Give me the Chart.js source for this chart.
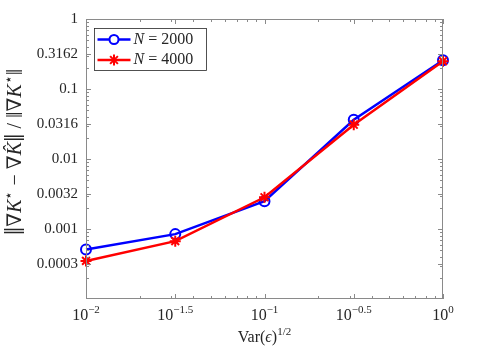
<!DOCTYPE html>
<html>
<head>
<meta charset="utf-8">
<script src="https://cdn.jsdelivr.net/npm/chart.js@4.4.0/dist/chart.umd.min.js"></script>
<style>
  html, body { margin: 0; padding: 0; background: #fff; }
  #wrap { width: 479px; height: 348px; }
</style>
</head>
<body>
<div id="wrap"><canvas id="chart" width="479" height="348"></canvas></div>
<script>
// values
const xValues = [0.01, 0.031623, 0.1, 0.316228, 1];
const errN2000 = [0.00051, 0.000845, 0.0025, 0.0363, 0.257];
const errN4000 = [0.00035, 0.00067, 0.00284, 0.0309, 0.25];
const seriesNames = ['2000', '4000'];

const xTickValues = [0.01, 0.031623, 0.1, 0.316228, 1];
const xTickExponents = ['\u22122', '\u22121.5', '\u22121', '\u22120.5', '0'];
const yTickValues = [1, 0.316228, 0.1, 0.031623, 0.01, 0.0031623, 0.001, 0.00031623];
const yTickLabels = ['1', '0.3162', '0.1', '0.0316', '0.01', '0.0032', '0.001', '0.0003'];

const SERIF = '"Liberation Serif", "DejaVu Serif", serif';
const AXIS_GRAY = '#262626';

// draw a run of text pieces (italic / superscript) centred on (cx, cy)
function drawRich(ctx, parts, cx, cy, angle) {
    ctx.save();
    ctx.translate(cx, cy);
    ctx.rotate(angle || 0);
    ctx.textBaseline = 'middle';
    ctx.textAlign = 'left';
    let total = 0;
    parts.forEach(p => {
        ctx.font = (p.italic ? 'italic ' : '') + p.size + 'px ' + SERIF;
        p.w = ctx.measureText(p.t).width;
        total += p.w;
    });
    let x = -total / 2;
    ctx.fillStyle = AXIS_GRAY;
    parts.forEach(p => {
        ctx.font = (p.italic ? 'italic ' : '') + p.size + 'px ' + SERIF;
        ctx.fillText(p.t, x, p.dy || 0);
        x += p.w;
    });
    ctx.restore();
}

function drawStar(ctx, x, y, r) {
    for (let k = 0; k < 4; k++) {
        const a = k * Math.PI / 4;
        ctx.beginPath();
        ctx.moveTo(x - r * Math.cos(a), y - r * Math.sin(a));
        ctx.lineTo(x + r * Math.cos(a), y + r * Math.sin(a));
        ctx.stroke();
    }
}

const decorations = {
    id: 'decorations',
    afterDraw(chart) {
        const ctx = chart.ctx;
        const a = chart.chartArea;
        const xs = chart.scales.x, ys = chart.scales.y;
        ctx.save();

        // box
        ctx.strokeStyle = '#8a8a8a';
        ctx.lineWidth = 1;
        ctx.strokeRect(a.left + 0.5, a.top + 0.5, a.right - a.left - 1, a.bottom - a.top - 1);

        // tick marks, pointing inwards
        const yTick = (v, len) => {
            const p = Math.round(ys.getPixelForValue(v)) + 0.5;
            ctx.beginPath();
            ctx.moveTo(a.left, p); ctx.lineTo(a.left + len, p);
            ctx.moveTo(a.right, p); ctx.lineTo(a.right - len, p);
            ctx.stroke();
        };
        const xTick = (v, len) => {
            const p = Math.round(xs.getPixelForValue(v)) + 0.5;
            ctx.beginPath();
            ctx.moveTo(p, a.bottom); ctx.lineTo(p, a.bottom - len);
            ctx.moveTo(p, a.top); ctx.lineTo(p, a.top + len);
            ctx.stroke();
        };
        for (let d = -4; d < 0; d++) {
            for (let m = 2; m <= 9; m++) yTick(m * Math.pow(10, d), 3);
        }
        for (let d = -2; d < 0; d++) {
            for (let m = 2; m <= 9; m++) xTick(m * Math.pow(10, d), 3);
        }
        yTickValues.forEach(v => yTick(v, 5));
        xTickValues.forEach(v => xTick(v, 5));

        // x tick labels: 10 with raised exponent
        xTickValues.forEach((v, i) => {
            const px = xs.getPixelForValue(v);
            drawRich(ctx, [
                { t: '10', size: 16 },
                { t: xTickExponents[i], size: 11, dy: -6 }
            ], px, a.bottom + 17, 0);
        });

        // axis titles
        drawRich(ctx, [
            { t: 'Var(', size: 16 },
            { t: '\u03f5', size: 16, italic: true },
            { t: ')', size: 16 },
            { t: '1/2', size: 11, dy: -6 }
        ], (a.left + a.right) / 2, a.bottom + 39, 0);

        drawRich(ctx, [
            { t: '\u2016', size: 30 },
            { t: '\u2207', size: 20 },
            { t: 'K', size: 20, italic: true },
            { t: '\u22c6', size: 14, dy: -7 },
            { t: ' \u2212 ', size: 20 },
            { t: '\u2207', size: 20 },
            { t: 'K\u0302', size: 20, italic: true },
            { t: '\u2016', size: 30 },
            { t: ' / ', size: 20 },
            { t: '\u2016', size: 23 },
            { t: '\u2207', size: 20 },
            { t: 'K', size: 20, italic: true },
            { t: '\u22c6', size: 14, dy: -7 },
            { t: '\u2016', size: 23 }
        ], 16, 152, -Math.PI / 2);

        // legend
        const lx = 94.5, ly = 28.5, lw = 112, lh = 42;
        ctx.fillStyle = '#fff';
        ctx.fillRect(lx, ly, lw, lh);
        ctx.strokeStyle = AXIS_GRAY;
        ctx.lineWidth = 0.8;
        ctx.strokeRect(lx, ly, lw, lh);
        chart.data.datasets.forEach((ds, i) => {
            const cy = ly + 11 + i * 20.5;
            ctx.strokeStyle = ds.borderColor;
            ctx.lineWidth = 2.5;
            ctx.beginPath();
            ctx.moveTo(lx + 3, cy); ctx.lineTo(lx + 36, cy);
            ctx.stroke();
            ctx.lineWidth = 2;
            if (ds.pointStyle === 'circle') {
                ctx.beginPath();
                ctx.arc(lx + 19.5, cy, 4.5, 0, Math.PI * 2);
                ctx.fillStyle = '#fff';
                ctx.fill();
                ctx.stroke();
            } else {
                drawStar(ctx, lx + 19.5, cy, 5.5);
            }
            ctx.save();
            ctx.translate(lx + 39, cy);
            ctx.textBaseline = 'middle';
            ctx.fillStyle = AXIS_GRAY;
            ctx.font = 'italic 16px ' + SERIF;
            ctx.fillText('N', 0, 0);
            const w = ctx.measureText('N').width;
            ctx.font = '16px ' + SERIF;
            ctx.fillText(' = ' + seriesNames[i], w, 0);
            ctx.restore();
        });

        ctx.restore();
    }
};

new Chart(document.getElementById('chart'), {
    type: 'line',
    data: {
        labels: xValues,
        datasets: [
            {
                label: 'N = ' + seriesNames[0],
                data: xValues.map((x, i) => ({ x, y: errN2000[i] })),
                borderColor: '#0000ff',
                borderWidth: 2.5,
                pointStyle: 'circle',
                pointRadius: 5,
                pointBorderWidth: 2,
                pointBackgroundColor: 'rgba(0,0,0,0)',
                order: 1,
                clip: false
            },
            {
                label: 'N = ' + seriesNames[1],
                data: xValues.map((x, i) => ({ x, y: errN4000[i] })),
                borderColor: '#ff0000',
                borderWidth: 2.5,
                pointStyle: 'star',
                pointRadius: 5.5,
                pointBorderWidth: 2,
                pointBackgroundColor: '#ff0000',
                order: 0,
                clip: false
            }
        ]
    },
    options: {
        responsive: false,
        animation: false,
        devicePixelRatio: 1,
        layout: { padding: { top: 19, right: 36, left: 0, bottom: 0 } },
        plugins: { legend: { display: false }, tooltip: { enabled: false } },
        scales: {
            x: {
                type: 'logarithmic',
                min: 0.01,
                max: 1,
                afterBuildTicks: s => { s.ticks = xTickValues.map(v => ({ value: v })); },
                afterFit: s => { s.height = 49; },
                ticks: { display: false },
                grid: { display: false },
                border: { display: false }
            },
            y: {
                type: 'logarithmic',
                min: 0.0001,
                max: 1,
                afterBuildTicks: s => { s.ticks = yTickValues.map(v => ({ value: v })); },
                afterFit: s => { s.width = 86; },
                ticks: {
                    autoSkip: false,
                    padding: 0,
                    color: AXIS_GRAY,
                    font: { family: SERIF, size: 15 },
                    callback: v => yTickLabels[yTickValues.indexOf(v)]
                },
                grid: { display: false },
                border: { display: false }
            }
        }
    },
    plugins: [decorations]
});
</script>
</body>
</html>
